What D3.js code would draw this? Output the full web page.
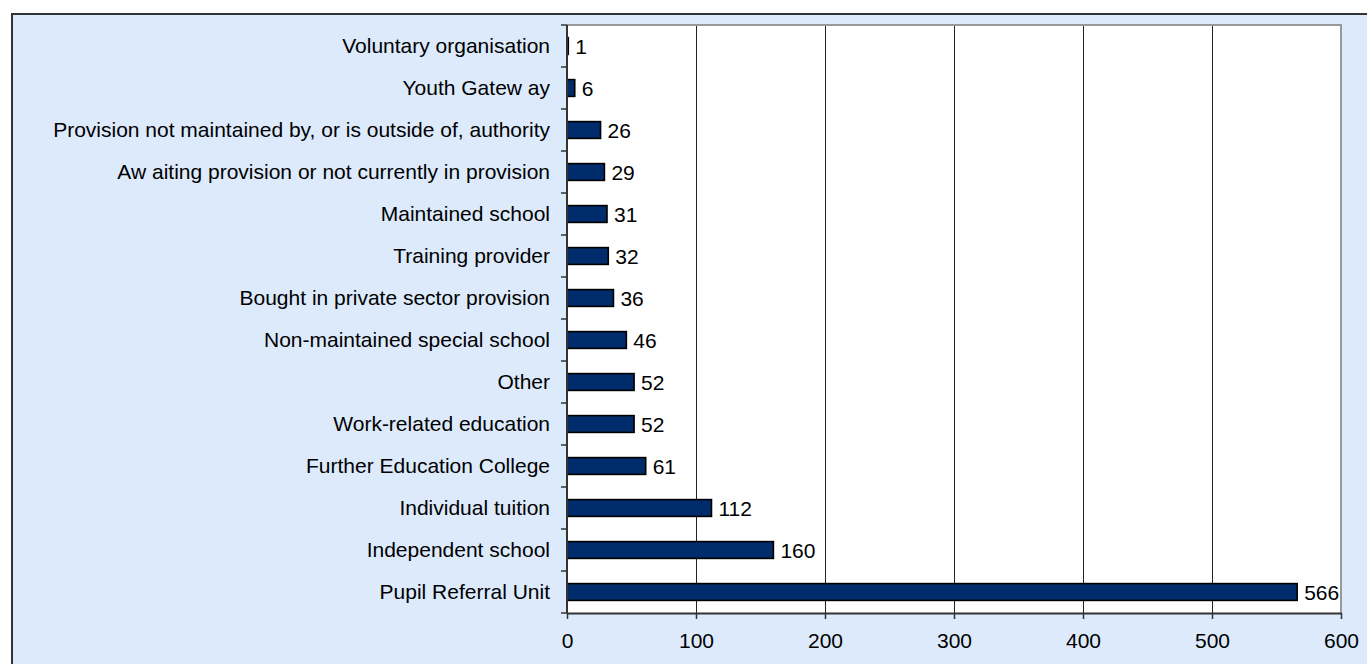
<!DOCTYPE html>
<html><head><meta charset="utf-8">
<script src="https://cdn.jsdelivr.net/npm/d3@7"></script>
<style>html,body{margin:0;padding:0;background:#fff;}svg{display:block;}</style>
</head><body>
<svg id="c" width="1367" height="664"></svg>
<script>
const categories = ["Voluntary organisation","Youth Gatew ay","Provision not maintained by, or is outside of, authority","Aw aiting provision or not currently in provision","Maintained school","Training provider","Bought in private sector provision","Non-maintained special school","Other","Work-related education","Further Education College","Individual tuition","Independent school","Pupil Referral Unit"];
const values = [1,6,26,29,31,32,36,46,52,52,61,112,160,566];
const xTicks = [0,100,200,300,400,500,600];

const svg = d3.select("#c");
const font = "'Liberation Sans', Arial, sans-serif";
const fs = 21;
// outer chart area
svg.append("rect").attr("x",12).attr("y",14).attr("width",1367).attr("height",700)
  .attr("fill","#dceafc").attr("stroke","#333").attr("stroke-width",2);

const L=567, R=1341, T=25, B=613;
const x = d3.scaleLinear().domain([0,600]).range([L,R]);
const y = d3.scaleBand().domain(categories).range([T,B]).paddingInner(0.6).paddingOuter(0.3);
const yb = d3.scaleBand().domain(categories).range([T,B]);

svg.append("rect").attr("x",L).attr("y",T).attr("width",R-L).attr("height",B-T).attr("fill","#fff");
// grid
svg.append("g").selectAll("line").data(xTicks.slice(1,-1)).join("line")
  .attr("x1",d=>Math.round(x(d))+0.5).attr("x2",d=>Math.round(x(d))+0.5).attr("y1",T).attr("y2",B)
  .attr("stroke","#222").attr("stroke-width",1);
// plot border top/right
svg.append("path").attr("d",`M${L},${T}H${R}V${B}`).attr("fill","none").attr("stroke","#999").attr("stroke-width",2);

// bars
svg.append("g").selectAll("rect").data(values).join("rect")
  .attr("x",x(0)).attr("y",(d,i)=>y(categories[i]))
  .attr("width",d=>x(d)-x(0)).attr("height",y.bandwidth())
  .attr("fill","#002c6b").attr("stroke","#000").attr("stroke-width",1.6);

// value labels
svg.append("g").selectAll("text").data(values).join("text")
  .attr("x",d=>x(d)+7).attr("y",(d,i)=>y(categories[i])+y.bandwidth()/2)
  .attr("dy","0.36em").attr("font-family",font).attr("font-size",fs).attr("fill","#000")
  .text(d=>d);

// y axis
const yAxis = d3.axisLeft(yb).tickSize(0).tickPadding(17);
const gy = svg.append("g").attr("transform",`translate(${L},0)`).call(yAxis);
gy.select(".domain").remove();
gy.selectAll("text").attr("font-family",font).attr("font-size",fs).attr("fill","#000");
// boundary ticks
const bounds = categories.map(c=>yb(c)).concat([B]);
svg.append("g").selectAll("line").data(bounds).join("line")
  .attr("x1",L-6).attr("x2",L).attr("y1",d=>d).attr("y2",d=>d).attr("stroke","#333").attr("stroke-width",1.5);
svg.append("line").attr("x1",L).attr("x2",L).attr("y1",T).attr("y2",B).attr("stroke","#333").attr("stroke-width",2);

// x axis
const xAxis = d3.axisBottom(x).tickValues(xTicks).tickSize(6).tickPadding(14).tickSizeOuter(0);
const gx = svg.append("g").attr("transform",`translate(0,${B})`).call(xAxis);
gx.select(".domain").attr("stroke","#333").attr("stroke-width",2);
gx.selectAll(".tick line").attr("stroke","#333").attr("stroke-width",1.5);
gx.selectAll("text").attr("font-family",font).attr("font-size",fs).attr("fill","#000");
</script>
</body></html>
